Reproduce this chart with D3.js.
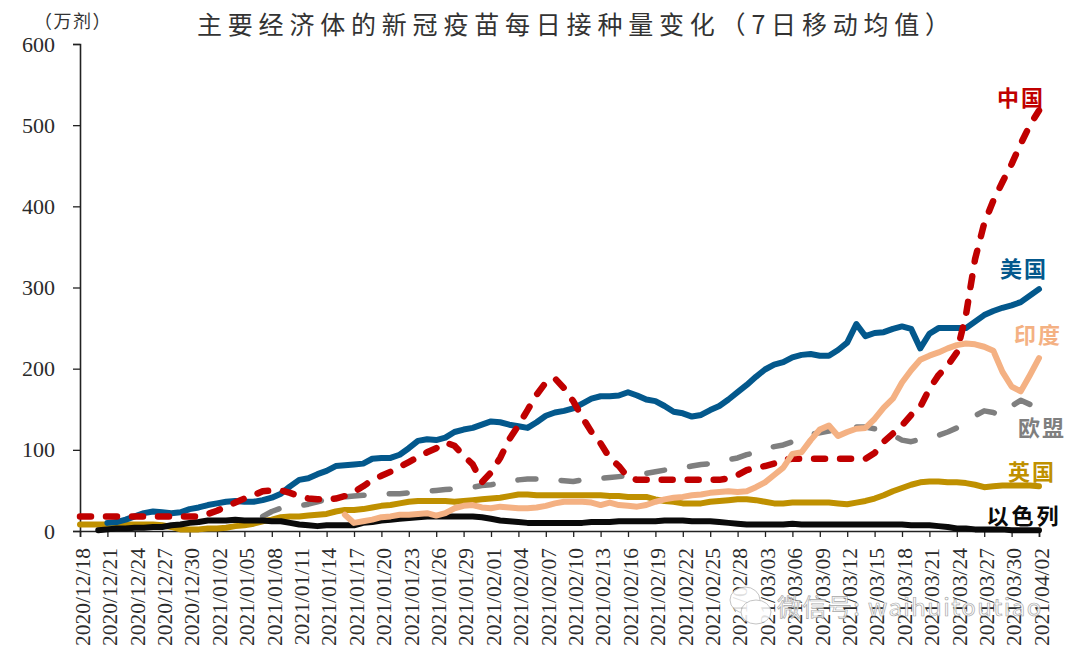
<!DOCTYPE html>
<html>
<head>
<meta charset="utf-8">
<script src="https://cdn.jsdelivr.net/npm/d3@7"></script>
<style>
  html, body { margin: 0; padding: 0; background: #fff; }
  text { font-family: "Liberation Serif", serif; fill: #2b2b2b; }
  .cjk { font-family: "Noto Sans CJK SC", sans-serif; }
  .series { fill: none; stroke-linejoin: round; stroke-linecap: round; }
</style>
</head>
<body>
<svg id="chart" width="1080" height="656"></svg>
<script>
// tick labels, one every 3 days
var tickLabels = ["2020/12/18","2020/12/21","2020/12/24","2020/12/27","2020/12/30","2021/01/02","2021/01/05","2021/01/08","2021/01/11","2021/01/14","2021/01/17","2021/01/20","2021/01/23","2021/01/26","2021/01/29","2021/02/01","2021/02/04","2021/02/07","2021/02/10","2021/02/13","2021/02/16","2021/02/19","2021/02/22","2021/02/25","2021/02/28","2021/03/03","2021/03/06","2021/03/09","2021/03/12","2021/03/15","2021/03/18","2021/03/21","2021/03/24","2021/03/27","2021/03/30","2021/04/02"];
var yTicks = [0, 100, 200, 300, 400, 500, 600];

// daily values from 2020/12/18 to 2021/04/02 (null = not drawn)
var china = [18,18,18,18,18,18,18,18,18,18,18,18,18,18,21,25,30,35,40,44,49,50,50,47,43,40,39,39,40,43,48,55,63,68,73,79,85,91,97,102,109,105,93,82,60,72,90,113,130,149,168,183,188,176,160,140,122,108,90,80,66,63,63,63,63,63,63,63,63,63,63,65,69,75,78,80,83,88,89,89,89,89,89,89,89,89,89,96,110,120,130,143,153,175,192,204,220,266,335,379,407,430,452,477,500,518];
var usa = [null,null,null,10,11,14,18,22,24,23,22,23,27,29,32,34,36,37,36,36,38,41,46,55,63,65,70,74,80,81,82,83,89,90,90,94,102,111,113,112,115,122,125,127,131,135,134,131,129,127,134,142,146,148,151,157,163,166,166,167,171,167,162,160,154,147,145,141,143,149,154,162,171,180,190,199,205,208,214,217,218,216,216,223,232,255,240,244,245,249,252,249,225,243,250,250,250,250,258,266,271,275,278,282,290,298];
var india = [null,null,null,null,null,null,null,null,null,null,null,null,null,null,null,null,null,null,null,null,null,null,null,null,null,null,null,null,null,20,10,12,14,17,18,20,20,21,22,19,22,28,31,32,29,28,30,29,28,28,29,31,34,36,36,36,35,32,35,32,31,30,32,36,39,41,42,44,45,47,48,49,48,49,54,60,69,78,95,97,112,125,130,117,122,126,127,138,152,163,183,198,211,216,220,225,229,231,230,227,222,196,178,172,192,213];
var eu = [null,null,null,null,null,null,null,null,null,null,null,null,null,null,null,null,null,null,null,null,18,24,28,30,31,33,36,39,41,42,43,44,45,45,46,46,47,48,49,50,51,52,53,54,56,57,59,61,63,64,64,64,63,62,61,63,64,65,66,67,68,70,71,73,75,76,78,80,82,83,85,88,90,94,97,101,104,106,110,115,119,121,123,127,128,128,128,126,122,118,112,110,113,115,118,122,127,133,142,148,146,142,154,161,156,null];
var uk = [8,8,8,8,8,8,8,8,8,7,5,2,2,2,3,3,4,6,7,9,12,14,17,18,18,19,20,21,24,26,26,27,29,31,32,34,36,37,37,37,37,36,37,38,39,40,41,43,45,45,44,44,44,44,44,44,44,44,43,43,42,42,42,39,37,36,34,34,34,36,37,38,39,39,38,36,34,34,35,35,35,35,35,34,33,35,37,40,44,49,53,57,60,61,61,60,60,59,57,54,55,56,56,56,56,55];
var israel = [null,null,1,2,3,3,4,4,5,5,7,8,10,11,13,13,13,14,13,13,13,12,12,10,8,7,6,7,7,7,7,10,11,13,14,15,16,17,18,18,18,18,18,18,17,15,13,12,11,10,10,10,10,10,10,10,11,11,11,12,12,12,12,12,13,13,13,12,12,12,11,10,9,8,8,8,8,8,9,8,8,8,8,8,8,8,8,8,8,8,8,7,7,7,6,5,3,3,2,2,2,2,1,1,1,1];

var title = "主要经济体的新冠疫苗每日接种量变化（7日移动均值）";
var unit = "（万剂）";

var seriesNames = ["中国", "美国", "印度", "欧盟", "英国", "以色列"];
var nameColors = ["#c00000", "#03588c", "#f4b183", "#7f7f7f", "#bf9000", "#0a0a0a"];
var nameX = [1021, 1024, 1038, 1042, 1032, 1024];
var nameY = [106, 277, 343, 436, 480, 524];

var margin = { left: 80, right: 1039, top: 44, bottom: 531 };

var svg = d3.select("#chart");

var x = d3.scaleLinear().domain([0, 105]).range([margin.left, margin.right]);
var y = d3.scaleLinear().domain([0, 600]).range([margin.bottom, margin.top]);

// axes
var xAxis = d3.axisBottom(x)
  .tickValues(tickLabels.map(function(d, i) { return i * 3; }))
  .tickFormat(function(d) { return tickLabels[d / 3]; })
  .tickSize(6)
  .tickPadding(0);
var xG = svg.append("g").attr("transform", "translate(0," + margin.bottom + ")").call(xAxis);
xG.selectAll("text")
  .attr("transform", "rotate(-90)")
  .attr("x", -17)
  .attr("y", 2)
  .attr("dy", "0.34em")
  .style("text-anchor", "end")
  .style("font-size", "21.5px")
  .style("font-family", "'Liberation Serif', serif");

var yAxis = d3.axisLeft(y).tickValues(yTicks).tickSize(7).tickPadding(18);
var yG = svg.append("g").attr("transform", "translate(" + margin.left + ",0)").call(yAxis);
yG.selectAll("text")
  .style("font-size", "22px")
  .style("font-family", "'Liberation Serif', serif");
svg.selectAll(".domain").attr("stroke", "#222").attr("stroke-width", 1.6);
svg.selectAll(".tick line").attr("stroke", "#222").attr("stroke-width", 1.3);

// lines, bottom one first
var line = d3.line()
  .defined(function(d) { return d != null; })
  .x(function(d, i) { return x(i); })
  .y(function(d) { return y(d); });

var drawLine = function(values, color, width, dash) {
  svg.append("path")
    .datum(values)
    .attr("class", "series")
    .attr("d", line)
    .attr("stroke", color)
    .attr("stroke-width", width)
    .attr("stroke-dasharray", dash);
};

drawLine(eu, "#7f7f7f", 5.5, "18,25.2");
drawLine(uk, "#bf9000", 6, null);
drawLine(usa, "#03588c", 6, null);
drawLine(israel, "#0a0a0a", 6, null);
drawLine(china, "#c00000", 6.5, "11,15");
drawLine(india, "#f4b183", 6, null);

// title and labels
svg.append("text").attr("class", "cjk")
  .attr("x", 197).attr("y", 34)
  .style("font-size", "25px").style("letter-spacing", "5.8px").style("fill", "#333")
  .text(title);
svg.append("text").attr("class", "cjk")
  .attr("x", 73).attr("y", 28).attr("text-anchor", "middle")
  .style("font-size", "18px").style("letter-spacing", "1.5px").style("fill", "#333")
  .text(unit);

seriesNames.forEach(function(name, i) {
  svg.append("text").attr("class", "cjk")
    .attr("x", nameX[i]).attr("y", nameY[i]).attr("text-anchor", "middle")
    .style("font-size", "22px").style("font-weight", "bold")
    .style("letter-spacing", i == 5 ? "3px" : "2px")
    .style("fill", nameColors[i])
    .text(name);
});

// watermark
var mark = svg.append("g").attr("opacity", 0.85);
mark.append("ellipse").attr("cx", 745).attr("cy", 600).attr("rx", 15).attr("ry", 13)
  .attr("fill", "#fff").attr("stroke", "#bbb");
mark.append("ellipse").attr("cx", 756).attr("cy", 612).attr("rx", 15).attr("ry", 12)
  .attr("fill", "#fff").attr("stroke", "#bbb");
mark.append("text").attr("class", "cjk")
  .attr("x", 777).attr("y", 616)
  .style("font-size", "24px").style("letter-spacing", "1.4px")
  .style("fill", "#fff").style("stroke", "#999").style("stroke-width", 0.7)
  .text("微信号: waihuitoutiao");
</script>
</body>
</html>
